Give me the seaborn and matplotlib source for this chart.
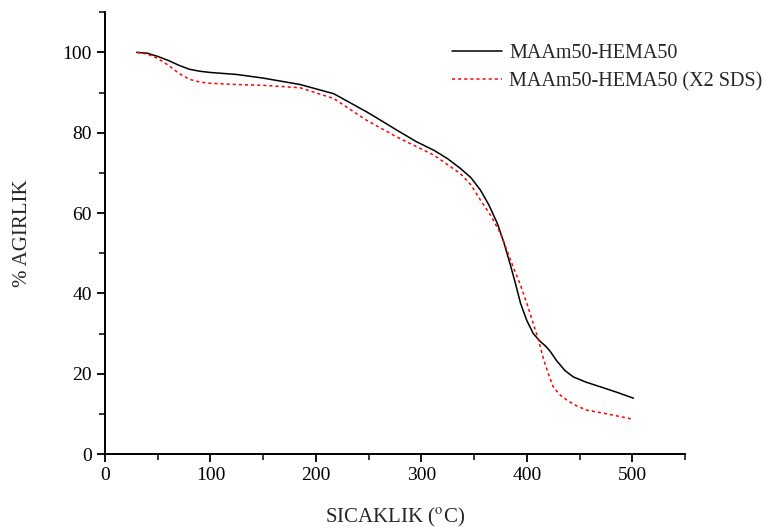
import numpy as np
import pandas as pd
import matplotlib
matplotlib.use("Agg")
import matplotlib.pyplot as plt
import seaborn as sns

# --- data ---
temp_a = [30, 40, 50, 60, 70, 80, 90, 100, 125, 150, 185, 217, 248, 262, 277, 295,
          312, 325, 337, 347, 356, 364, 372, 378, 384, 389, 394, 400, 406, 412, 418,
          422, 428, 436, 444, 456, 470, 485, 501]
mass_a = [100, 99.8, 99.0, 98.0, 96.8, 95.8, 95.3, 95.0, 94.5, 93.6, 92.0, 89.7, 85.2,
          83.0, 80.6, 77.8, 75.6, 73.5, 71.1, 68.8, 65.7, 62.0, 57.4, 52.8, 47.4, 42.6,
          37.5, 33.2, 30.0, 28.2, 26.8, 25.6, 23.3, 20.8, 19.2, 17.9, 16.7, 15.4, 13.9]

temp_b = [30, 40, 50, 60, 70, 80, 90, 100, 125, 150, 185, 217, 248, 277, 312, 337,
          347, 356, 366, 375, 387, 394, 400, 406, 411, 416, 421, 425, 431, 438, 447,
          457, 470, 485, 500]
mass_b = [100, 99.6, 98.5, 96.8, 94.8, 93.3, 92.6, 92.3, 92.0, 91.8, 91.2, 88.5,
          83.1, 78.9, 74.4, 69.8, 67.0, 63.2, 59.3, 54.9, 46.6, 42.0, 37.5, 32.5,
          28.4, 23.4, 19.5, 16.7, 14.8, 13.4, 12.0, 10.9, 10.3, 9.5, 8.7]

label_a = "MAAm50-HEMA50"
label_b = "MAAm50-HEMA50 (X2 SDS)"
x_ticks = [0, 100, 200, 300, 400, 500]
y_ticks = [0, 20, 40, 60, 80, 100]

df = pd.concat([
    pd.DataFrame({"T": temp_a, "W": mass_a, "s": label_a}),
    pd.DataFrame({"T": temp_b, "W": mass_b, "s": label_b}),
])

sns.set_style("ticks")
plt.rcParams["font.family"] = ["Liberation Serif", "DejaVu Serif"]
plt.rcParams["mathtext.fontset"] = "stix"

fig = plt.figure(figsize=(7.75, 5.32), dpi=100)
ax = fig.add_axes([0.1355, 0.1466, 0.884 - 0.1355, 0.977 - 0.1466])

sns.lineplot(data=df[df.s == label_a], x="T", y="W", ax=ax, color="black",
             linewidth=1.1, label=label_a, sort=False, estimator=None)
sns.lineplot(data=df[df.s == label_b], x="T", y="W", ax=ax, color="red",
             linewidth=1.1, label=label_b, sort=False, estimator=None,
             linestyle=(0, (2, 2)))

ax.set_xlim(0, 550)
ax.set_ylim(0, 110)
ax.set_xticks(x_ticks)
ax.set_yticks(y_ticks)
ax.set_xticks(np.arange(50, 551, 100), minor=True)
ax.set_yticks(np.arange(10, 111, 20), minor=True)
ax.tick_params(axis="both", which="major", length=6, width=1.3, labelsize=14,
               direction="out", colors="black")
ax.tick_params(axis="both", which="minor", length=4, width=1.3, direction="out")
for s in ["top", "right"]:
    ax.spines[s].set_visible(False)
for s in ["left", "bottom"]:
    ax.spines[s].set_linewidth(1.4)
    ax.spines[s].set_color("black")

ax.set_xlabel(r"SICAKLIK ($^{\rm o}$C)", fontsize=15, labelpad=16)
ax.set_ylabel("% AGIRLIK", fontsize=15, labelpad=22)

leg = ax.legend(loc="upper left", bbox_to_anchor=(0.598, 0.928), frameon=False,
                fontsize=14.5, handlelength=2.5, handletextpad=0.35,
                labelspacing=0.45, borderaxespad=0, borderpad=0)

fig.savefig("out.png", dpi=100)
